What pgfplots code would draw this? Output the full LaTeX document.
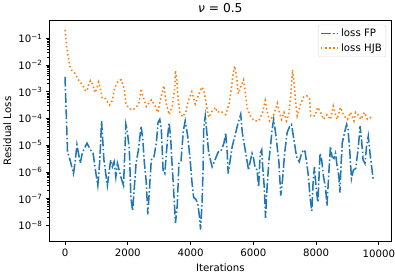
\documentclass[border=0pt]{standalone}
\usepackage{fontspec}
\setmainfont{DejaVu Sans}
\newfontfamily\obl{DejaVu Sans Oblique}
\usepackage{pgfplots}
\pgfplotsset{compat=1.18}
\definecolor{cA}{HTML}{1F77B4}
\definecolor{cB}{HTML}{FF7F0E}
\begin{document}
\fontsize{10pt}{12pt}\selectfont
\begin{tikzpicture}
\begin{axis}[
  scale only axis, width=335pt, height=217pt,
  ymode=log, xmin=-495, xmax=10395, ymin=2.45e-9, ymax=0.473,
  scaled x ticks=false,
  xtick={0,2000,4000,6000,8000},
  xticklabels={0,2000,4000,6000,8000},
  ytick={1e-8,1e-7,1e-6,1e-5,1e-4,1e-3,1e-2,1e-1},
  yticklabels={10\textsuperscript{−8},10\textsuperscript{−7},10\textsuperscript{−6},10\textsuperscript{−5},10\textsuperscript{−4},10\textsuperscript{−3},10\textsuperscript{−2},10\textsuperscript{−1}},
  tick align=outside, xtick pos=bottom, ytick pos=left,
  major tick length=3.5pt, minor tick length=2pt,
  tick style={black, line width=0.8pt},
  axis line style={line width=0.8pt},
  ticklabel style={font=\fontsize{10pt}{12pt}\selectfont},
  xlabel={Iterations}, ylabel={Residual Loss},
  label style={font=\fontsize{10pt}{12pt}\selectfont},
  title={{\obl ν} = 0.5},
  title style={font=\fontsize{12pt}{14pt}\selectfont, yshift=-2pt},
  legend style={at={(0.985,0.98)}, anchor=north east, draw=black!15, rounded corners=2pt, fill=white, font=\fontsize{10pt}{12pt}\selectfont, inner sep=2pt, row sep=1pt},
  legend cell align=left,
  after end axis/.code={
    \draw[black, line width=0.8pt] (axis cs:10000,2.45e-9) -- ++(0,-3.5pt);
    \node[anchor=north, inner sep=0pt, yshift=-6.8pt, font=\fontsize{10pt}{12pt}\selectfont] at (axis cs:10000,2.45e-9) {\strut 10000};
  },
]
\addplot[cA, line width=1.5pt, dash pattern=on 9.6pt off 2.4pt on 1.5pt off 2.4pt] coordinates {
(0,3.6e-3)(80,5.8e-6)(160,2.8e-6)(270,8.7e-7)(330,2.8e-6)(380,1.05e-5)(430,5.0e-6)(485,2.1e-6)(540,4.4e-6)(595,6.8e-6)(700,1.2e-5)(810,6.8e-6)(895,5.0e-6)(970,1.17e-6)(1045,3.1e-7)(1110,2.8e-6)(1165,8.1e-5)(1240,2.8e-6)(1350,3.1e-7)(1455,2.8e-6)(1510,1.55e-6)(1565,2.4e-6)(1620,6.5e-7)(1670,2.1e-6)(1725,1.17e-6)(1780,6.5e-7)(1865,3.1e-7)(1940,6.0e-5)(1990,3.0e-5)(2050,6.8e-6)(2100,1.1e-7)(2155,3.5e-8)(2210,2.7e-7)(2265,2.1e-6)(2340,6.8e-6)(2425,5.2e-5)(2480,1.6e-5)(2530,2.1e-6)(2585,4.8e-7)(2640,2.6e-8)(2695,2.7e-7)(2750,2.8e-6)(2835,3.7e-6)(2910,1.2e-5)(2965,7.1e-5)(3020,9.3e-5)(3070,3.9e-5)(3125,1.17e-6)(3180,8.7e-7)(3230,5.0e-6)(3285,3.0e-5)(3320,7.1e-5)(3370,1.6e-5)(3410,2.1e-6)(3450,3.6e-7)(3520,1.23e-8)(3580,6.2e-8)(3630,2.1e-6)(3695,2.4e-6)(3770,3.4e-5)(3830,8.1e-5)(3910,2.2e-5)(3990,2.8e-6)(4040,4.8e-7)(4100,1.1e-7)(4170,9.5e-8)(4235,6.2e-8)(4290,1.9e-8)(4320,6.9e-9)(4365,6.2e-8)(4400,1.17e-6)(4420,3.9e-5)(4470,1.26e-4)(4520,3.0e-5)(4580,5.0e-6)(4690,1.55e-6)(4740,2.1e-6)(4820,3.7e-6)(4890,5.8e-6)(4960,5.8e-6)(5010,7.8e-6)(5065,1.2e-5)(5120,3.0e-5)(5170,5.0e-6)(5200,8.7e-7)(5250,2.1e-6)(5330,9.1e-6)(5415,2.2e-5)(5490,5.2e-5)(5600,1.45e-4)(5650,3.0e-5)(5760,5.0e-6)(5850,1.17e-6)(5890,2.1e-6)(5960,5.0e-6)(6000,3.7e-6)(6055,1.55e-6)(6120,1.17e-6)(6170,2.7e-7)(6220,5.0e-6)(6270,6.8e-6)(6300,1.55e-6)(6350,2.7e-7)(6390,1.9e-8)(6440,2.7e-7)(6500,2.8e-6)(6550,9.1e-6)(6600,3.9e-5)(6650,9.3e-5)(6710,3.0e-5)(6760,9.1e-6)(6820,2.1e-6)(6875,1.3e-7)(6930,4.8e-7)(7000,5.0e-6)(7080,3.0e-5)(7165,5.2e-5)(7220,6.0e-5)(7295,1.6e-5)(7380,3.7e-6)(7465,2.4e-6)(7540,5.0e-6)(7600,6.8e-6)(7650,5.8e-6)(7705,2.1e-6)(7760,6.5e-7)(7810,1.1e-7)(7865,3.5e-8)(7910,4.8e-7)(7950,1.55e-6)(8010,2.0e-7)(8060,7.2e-8)(8110,1.55e-6)(8130,5.0e-6)(8180,2.8e-6)(8240,6.5e-7)(8300,2.7e-7)(8350,5.4e-8)(8400,6.5e-7)(8460,9.1e-6)(8510,3.7e-6)(8570,3.2e-6)(8620,5.0e-6)(8675,1.55e-6)(8730,6.5e-7)(8760,1.7e-7)(8800,2.1e-6)(8835,1.2e-5)(8910,3.0e-5)(8975,6.0e-5)(9020,3.9e-5)(9080,5.0e-6)(9130,5.6e-7)(9190,1.17e-6)(9265,1.35e-6)(9340,6.8e-6)(9405,5.2e-5)(9450,1.6e-5)(9500,2.8e-6)(9560,2.1e-6)(9610,9.1e-6)(9665,2.2e-5)(9720,5.0e-6)(9825,4.8e-7)
};
\addlegendentry{loss FP}
\addplot[cB, line width=1.5pt, dash pattern=on 1.5pt off 2.475pt] coordinates {
(0,2.1e-1)(50,5.1e-2)(100,2.1e-2)(150,9.3e-3)(200,6.6e-3)(300,5.2e-3)(430,2.8e-3)(570,1.7e-3)(650,1.1e-3)(710,1.1e-3)(730,1.6e-3)(810,2.6e-3)(885,1.9e-3)(950,9.3e-4)(1000,1.2e-3)(1070,2.3e-3)(1130,1.3e-3)(1190,5.5e-4)(1290,5.5e-4)(1420,3.2e-4)(1510,4.7e-4)(1580,1.4e-3)(1700,2.6e-3)(1790,2.8e-3)(1890,1.3e-3)(1940,3.5e-4)(2050,2.3e-4)(2160,2.1e-4)(2260,2.6e-4)(2350,3.5e-4)(2430,1.3e-3)(2480,7.2e-4)(2590,2.8e-4)(2750,5.0e-4)(2860,3.2e-4)(2960,1.7e-4)(3040,5.0e-4)(3150,1.7e-3)(3230,3.5e-4)(3320,1.4e-4)(3420,3.0e-4)(3500,1.5e-3)(3520,6.2e-3)(3560,2.8e-3)(3610,4.7e-4)(3660,1.7e-4)(3750,1.15e-4)(3860,1.9e-4)(3930,4.7e-4)(4040,1.0e-3)(4150,3.5e-4)(4250,7.2e-4)(4360,1.5e-3)(4430,1.1e-3)(4500,3.5e-4)(4580,1.1e-4)(4690,1.9e-4)(4800,2.6e-4)(4850,1.7e-4)(4960,1.9e-4)(5120,1.4e-4)(5230,3.5e-4)(5300,1.3e-3)(5360,4.9e-3)(5410,9.3e-3)(5480,2.8e-3)(5520,8.5e-4)(5600,1.5e-3)(5690,2.8e-3)(5730,1.3e-3)(5800,2.6e-4)(5900,1.26e-4)(6030,8.1e-5)(6170,8.1e-5)(6300,1.7e-4)(6380,4.7e-4)(6440,1.9e-4)(6520,8.1e-5)(6640,1.26e-4)(6770,3.7e-4)(6820,1.9e-4)(6900,9.3e-5)(6980,1.7e-4)(7060,8.1e-5)(7130,1.4e-4)(7200,8.5e-4)(7250,6.6e-3)(7290,2.8e-3)(7350,4.1e-4)(7400,1.26e-4)(7490,3.0e-4)(7600,6.3e-4)(7700,7.2e-4)(7790,5.5e-4)(7830,1.26e-4)(7970,1.26e-4)(8050,2.6e-4)(8130,1.9e-4)(8240,9.3e-5)(8350,1.4e-4)(8460,9.3e-5)(8550,2.9e-4)(8620,1.4e-4)(8670,9.3e-5)(8780,2.6e-4)(8890,1.26e-4)(9000,9.3e-5)(9100,1.7e-4)(9210,8.1e-5)(9260,1.7e-4)(9370,1.26e-4)(9430,9.3e-5)(9540,1.7e-4)(9640,9.3e-5)(9750,1.1e-4)(9800,9.3e-5)
};
\addlegendentry{loss HJB}
\end{axis}
\end{tikzpicture}
\end{document}
